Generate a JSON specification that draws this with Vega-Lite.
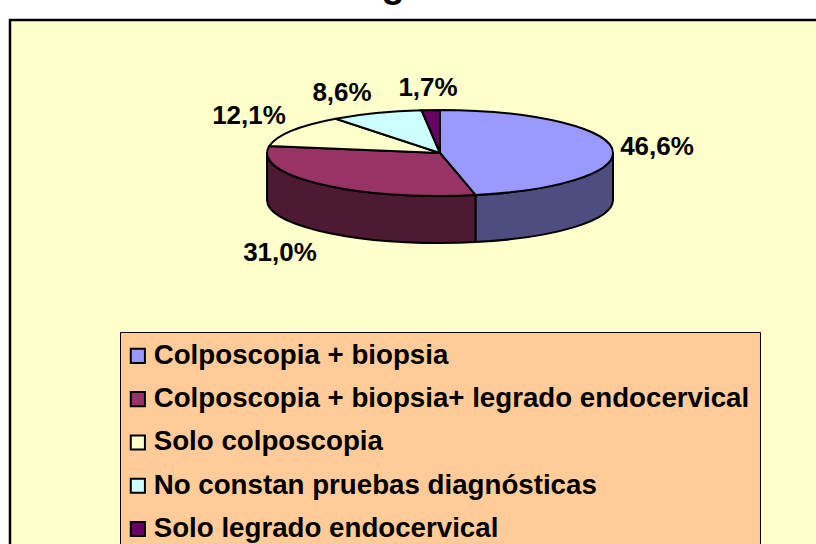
{
  "$schema": "https://vega.github.io/schema/vega-lite/v6.json",
  "width": 816,
  "height": 534,
  "autosize": {"type": "none"},
  "padding": {"left": 10, "top": 20, "right": 0, "bottom": 0},
  "background": "#FFFFFF",
  "view": {"fill": "#FFFFCC", "stroke": "#000000", "strokeWidth": 2.5},
  "data": {"values": [
    {"slice": "Colposcopia + biopsia", "value": 46.6, "label": "46,6%"},
    {"slice": "Colposcopia + biopsia+ legrado endocervical", "value": 31.0, "label": "31,0%"},
    {"slice": "Solo colposcopia", "value": 12.1, "label": "12,1%"},
    {"slice": "No constan pruebas diagnósticas", "value": 8.6, "label": "8,6%"},
    {"slice": "Solo legrado endocervical", "value": 1.7, "label": "1,7%"}
  ]},
  "layer": [
    {
      "data": {"values": [{"heading": "Diagnóstico"}]},
      "mark": {"type": "text", "font": "Liberation Sans", "fontSize": 38, "fontWeight": "bold", "color": "#000000", "align": "center", "baseline": "alphabetic", "dx": 13, "dy": -290},
      "encoding": {"text": {"field": "heading", "type": "nominal"}}
    },
    {
      "transform": [{"filter": "datum.value > 30"}],
      "mark": {"type": "point", "filled": true, "size": 4, "opacity": 1, "stroke": "#000000", "strokeWidth": 2},
      "encoding": {
        "shape": {"field": "label", "type": "nominal", "legend": null, "scale": {
          "domain": ["46,6%", "31,0%"],
          "range": [
            "M57.5,-91.92 A173,43 0 0 0 195,-134 L195,-87 A173,43 0 0 1 57.5,-44.92 Z",
            "M57.5,-91.92 A173,43 0 0 1 22,-91 A173,43 0 0 1 -151,-134 L-151,-87 A173,43 0 0 0 22,-44 A173,43 0 0 0 57.5,-44.92 Z"
          ]}},
        "color": {"field": "label", "type": "nominal", "legend": null, "scale": {
          "domain": ["46,6%", "31,0%"],
          "range": ["#4D4D80", "#4D1933"]}}
      }
    },
    {
      "mark": {"type": "point", "filled": true, "size": 4, "opacity": 1, "stroke": "#000000", "strokeWidth": 2},
      "encoding": {
        "shape": {"field": "label", "type": "nominal", "legend": null, "scale": {
          "domain": ["46,6%", "31,0%", "12,1%", "8,6%", "1,7%"],
          "range": [
            "M22,-134 L22,-177 A173,43 0 0 1 195,-134 A173,43 0 0 1 57.5,-91.92 Z",
            "M22,-134 L57.5,-91.92 A173,43 0 0 1 22,-91 A173,43 0 0 1 -151,-134 A173,43 0 0 1 -148.7,-140.99 Z",
            "M22,-134 L-148.7,-140.99 A173,43 0 0 1 -82.35,-168.3 Z",
            "M22,-134 L-82.35,-168.3 A173,43 0 0 1 3.56,-176.75 Z",
            "M22,-134 L3.56,-176.75 A173,43 0 0 1 22,-177 Z"
          ]}},
        "color": {"field": "slice", "type": "nominal", "scale": {
          "domain": ["Colposcopia + biopsia", "Colposcopia + biopsia+ legrado endocervical", "Solo colposcopia", "No constan pruebas diagnósticas", "Solo legrado endocervical"],
          "range": ["#9999FF", "#993366", "#FFFFCC", "#CCFFFF", "#660066"]},
          "legend": {
            "orient": "none", "legendX": 110, "legendY": 312, "title": null,
            "fillColor": "#FFCC99", "strokeColor": "#000000", "padding": 10,
            "symbolType": "square", "symbolSize": 200, "symbolOffset": -6, "symbolStrokeColor": "#000000", "symbolStrokeWidth": 2,
            "labelFont": "Liberation Sans", "labelFontWeight": "bold", "labelFontSize": 27.7, "labelColor": "#000000",
            "labelLimit": 800, "rowPadding": 14.3, "labelOffset": 2
          }}
      }
    },
    {
      "mark": {"type": "text", "font": "Liberation Sans", "fontWeight": "bold", "fontSize": 26, "color": "#000000", "baseline": "middle", "align": "center"},
      "encoding": {
        "text": {"field": "label", "type": "nominal"},
        "x": {"field": "value", "type": "quantitative", "axis": null, "scale": {"domain": [1.7, 8.6, 12.1, 31.0, 46.6], "range": [418, 332, 239, 270, 647], "nice": false, "zero": false}},
        "y": {"field": "value", "type": "quantitative", "axis": null, "scale": {"domain": [1.7, 8.6, 12.1, 31.0, 46.6], "range": [68, 73, 96, 233, 127], "nice": false, "zero": false}}
      }
    }
  ],
  "resolve": {"scale": {"shape": "independent", "color": "independent"}}
}
